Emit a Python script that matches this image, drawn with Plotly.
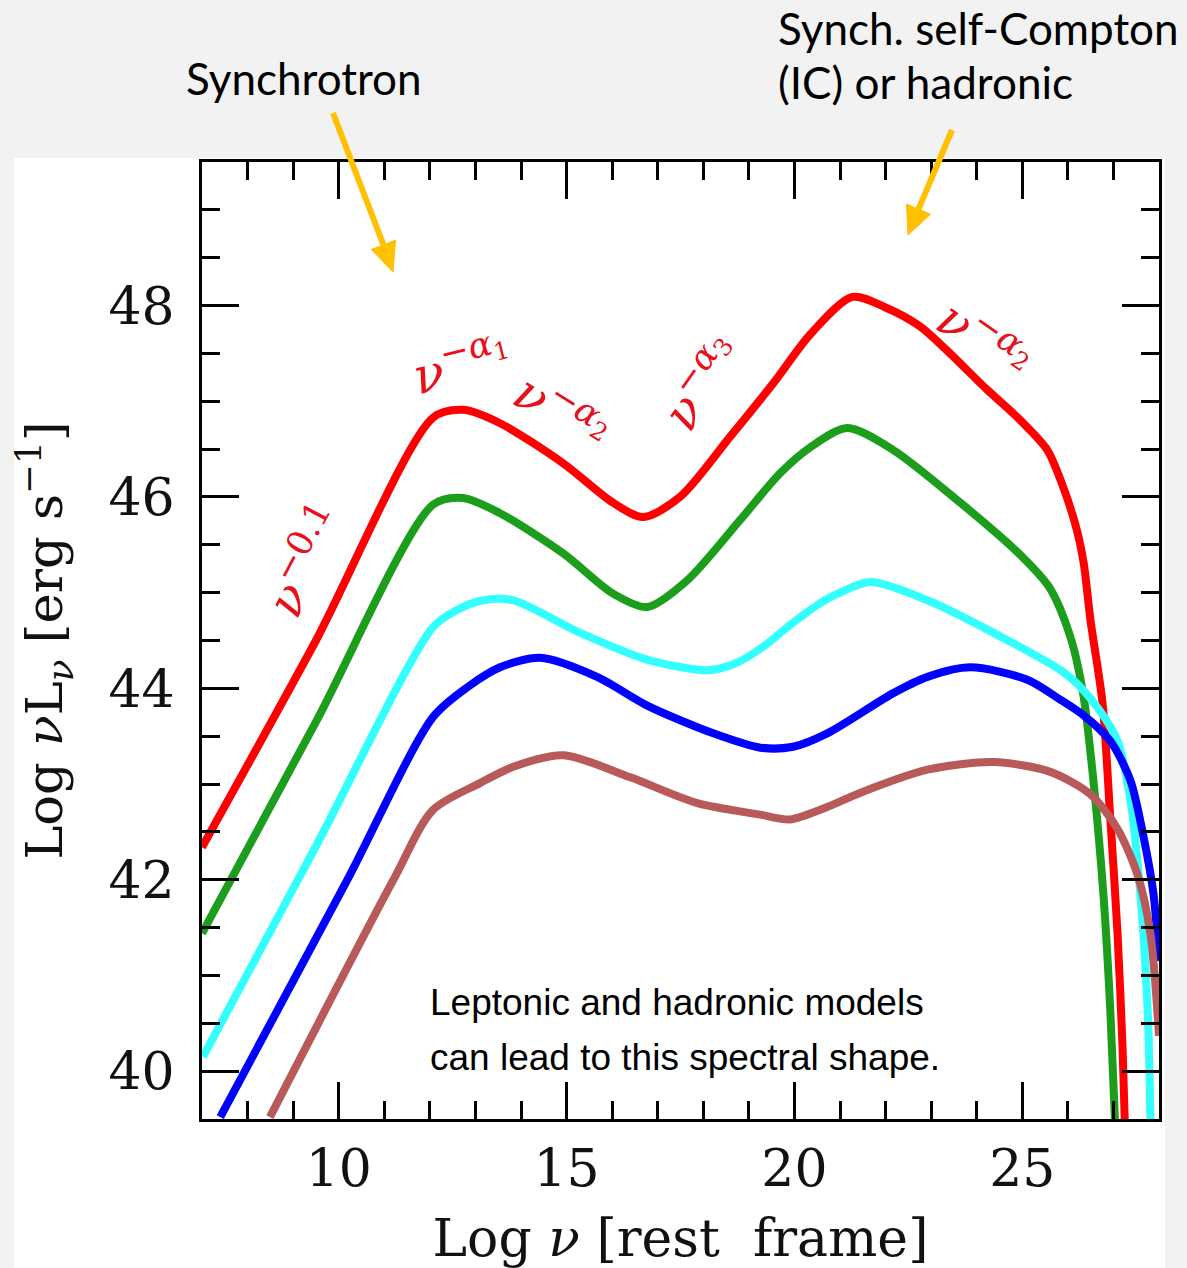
import plotly.graph_objects as go

# ---- data (Log nu, Log nuL_nu) ----
red_x = [7.0, 9.5, 12.07, 12.73, 13.54, 14.93, 16.02, 16.68, 17.49, 18.59, 19.54, 20.35, 21.27, 22.0,
         22.76, 24.23, 24.96, 25.55, 25.9, 26.2, 26.35, 26.5, 26.76, 26.93, 27.09, 27.2, 27.26]
red_y = [42.34, 44.5, 46.83, 46.91, 46.77, 46.35, 45.94, 45.79, 46.0, 46.63, 47.19, 47.7, 48.09, 47.98,
         47.78, 47.12, 46.8, 46.49, 46.1, 45.65, 45.3, 44.7, 43.85, 42.65, 41.44, 40.25, 39.3]

green_x = [7.0, 9.5, 12.07, 12.73, 13.54, 14.93, 16.02, 16.77, 17.65, 18.81, 19.69, 20.35, 21.16, 22.17,
           23.64, 24.9, 25.6, 26.06, 26.34, 26.56, 26.78, 26.93, 27.05]
green_y = [41.44, 43.65, 45.92, 45.99, 45.83, 45.41, 44.99, 44.85, 45.13, 45.76, 46.25, 46.52, 46.72, 46.49,
           45.94, 45.42, 45.05, 44.53, 43.93, 43.04, 41.85, 40.65, 39.3]

cyan_x = [7.02, 9.5, 12.07, 12.6, 13.17, 13.83, 15.3, 16.77, 18.09, 18.7, 19.3, 19.9, 20.5, 21.0, 21.67,
          22.92, 24.37, 25.84, 26.2, 26.71, 27.09, 27.37, 27.59, 27.75, 27.82]
cyan_y = [40.15, 42.35, 44.64, 44.82, 44.92, 44.92, 44.58, 44.3, 44.19, 44.26, 44.43, 44.66, 44.87, 45.0, 45.11,
          44.92, 44.58, 44.19, 44.05, 43.76, 43.45, 42.84, 41.85, 40.65, 39.3]

blue_x = [7.4, 10.18, 12.07, 12.82, 13.54, 14.42, 15.67, 16.77, 18.22, 19.25, 19.97, 20.72, 22.17, 22.92,
          23.86, 25.11, 25.84, 26.34, 26.93, 27.37, 27.66, 27.88, 28.0]
blue_y = [39.52, 41.99, 43.7, 44.01, 44.22, 44.32, 44.12, 43.82, 43.53, 43.38, 43.39, 43.53, 43.95, 44.12,
          44.22, 44.09, 43.88, 43.72, 43.45, 43.04, 42.45, 41.85, 41.15]

brown_x = [8.49, 11.19, 12.07, 13.1, 13.83, 14.93, 16.4, 17.87, 19.25, 19.9, 20.72, 21.45, 22.92, 24.37,
           25.6, 26.5, 27.09, 27.53, 27.81, 28.0]
brown_y = [39.52, 41.99, 42.73, 43.01, 43.18, 43.3, 43.07, 42.8, 42.68, 42.63, 42.76, 42.91, 43.15, 43.23,
           43.13, 42.89, 42.53, 42.05, 41.44, 40.37]

series = [
    (red_x, red_y, "#ff0000"),
    (green_x, green_y, "#1c9e1c"),
    (cyan_x, cyan_y, "#33ffff"),
    (blue_x, blue_y, "#0000ff"),
    (brown_x, brown_y, "#b85a5a"),
]

x_range = [7, 28]
y_range = [39.5, 49.5]
x_major = [10, 15, 20, 25]
y_major = [40, 42, 44, 46, 48]

fig = go.Figure()
for xs, ys, col in series:
    fig.add_trace(go.Scatter(x=xs, y=ys, mode="lines",
                             line=dict(color=col, width=8, shape="spline", smoothing=0.8),
                             hoverinfo="skip", cliponaxis=True))

serif = "DejaVu Serif"
axis_common = dict(
    showline=True, linewidth=3, linecolor="black", mirror="allticks",
    ticks="inside", tickwidth=3, tickcolor="black", ticklen=37,
    showgrid=False, zeroline=False, automargin=False,
    tickfont=dict(family=serif, size=52, color="#111"),
)
fig.update_xaxes(range=x_range, tickvals=x_major, ticktext=[str(v) for v in x_major],
                 minor=dict(dtick=1, tick0=0, ticklen=18, tickwidth=3, tickcolor="black", ticks="inside", showgrid=False),
                 ticklabelstandoff=2,
                 title=dict(text="Log <i>ν</i> [rest  frame]", font=dict(family=serif, size=52, color="#111"), standoff=26),
                 **axis_common)
fig.update_yaxes(range=y_range, tickvals=y_major, ticktext=[str(v) for v in y_major],
                 minor=dict(dtick=0.5, tick0=0, ticklen=18, tickwidth=3, tickcolor="black", ticks="inside", showgrid=False),
                 ticklabelstandoff=14,
                 title=dict(text="Log <i>ν</i>L<sub><i>ν</i></sub> [erg s<sup>−1</sup>]",
                            font=dict(family=serif, size=51, color="#111"), standoff=30),
                 **axis_common)

# plot-area geometry in pixels (used only to place decorations given in page pixels)
PL, PR, PT, PB = 202, 1159, 162, 1119


def px(xp):
    return (xp - PL) / (PR - PL)


def py(yp):
    return (PB - yp) / (PB - PT)


# white panel behind the chart
fig.add_shape(type="rect", xref="paper", yref="paper", x0=px(14), x1=px(1165), y0=py(1275), y1=py(158),
              fillcolor="white", line=dict(width=0), layer="below")

red = "#e8101a"
lab_font = dict(family=serif, size=50, color=red)
labels = [
    (9.26, 45.34, "<i>ν</i><sup>−0.1</sup>", -62),
    (12.7, 47.4, "<i>ν</i><sup>−<i>α</i><sub>1</sub></sup>", -14),
    (14.9, 46.9, "<i>ν</i><sup>−<i>α</i><sub>2</sub></sup>", 32),
    (17.93, 47.2, "<i>ν</i><sup>−<i>α</i><sub>3</sub></sup>", -55),
    (24.19, 47.66, "<i>ν</i><sup>−<i>α</i><sub>2</sub></sup>", 35),
]
for lx, ly, txt, ang in labels:
    fig.add_annotation(x=lx, y=ly, xref="x", yref="y", text=txt, showarrow=False,
                       textangle=ang, font=lab_font)

sans = "Lato"
top_font = dict(family=sans, size=44, color="black")
fig.add_annotation(xref="paper", yref="paper", x=px(304), y=py(78), xanchor="center", yanchor="middle",
                   text="Synchrotron", showarrow=False, font=top_font)
fig.add_annotation(xref="paper", yref="paper", x=px(776), y=py(28), xanchor="left", yanchor="middle",
                   text="Synch. self-Compton", showarrow=False, font=top_font)
fig.add_annotation(xref="paper", yref="paper", x=px(776), y=py(82), xanchor="left", yanchor="middle",
                   text="(IC) or hadronic", showarrow=False, font=top_font)

# orange arrows drawn as shaft + triangular head (page pixel geometry)
arrow_col = "#ffc000"
arrows = [
    ((333, 113), (383.4, 244.8), (393, 272), (395.5, 240.2), (371.3, 249.4)),
    ((952, 130), (918.5, 209.1), (908, 235), (930.5, 214.2), (906.5, 204.0)),
]
for tail, base, tip, c1, c2 in arrows:
    fig.add_shape(type="line", xref="paper", yref="paper",
                  x0=px(tail[0]), y0=py(tail[1]), x1=px(base[0]), y1=py(base[1]),
                  line=dict(color=arrow_col, width=6))
    fig.add_shape(type="path", xref="paper", yref="paper",
                  path=f"M {px(tip[0])} {py(tip[1])} L {px(c1[0])} {py(c1[1])} L {px(c2[0])} {py(c2[1])} Z",
                  fillcolor=arrow_col, line=dict(color=arrow_col, width=1))

note_font = dict(family="Liberation Sans", size=37, color="black")
fig.add_annotation(xref="paper", yref="paper", x=px(428), y=py(1002), xanchor="left", yanchor="middle",
                   text="Leptonic and hadronic models", showarrow=False, font=note_font)
fig.add_annotation(xref="paper", yref="paper", x=px(428), y=py(1057), xanchor="left", yanchor="middle",
                   text="can lead to this spectral shape.", showarrow=False, font=note_font)

fig.update_layout(width=1187, height=1268, margin=dict(l=PL, r=1187 - PR, t=PT, b=1268 - PB),
                  paper_bgcolor="#f2f2f2", plot_bgcolor="white", showlegend=False)

fig.write_html("out.html")
